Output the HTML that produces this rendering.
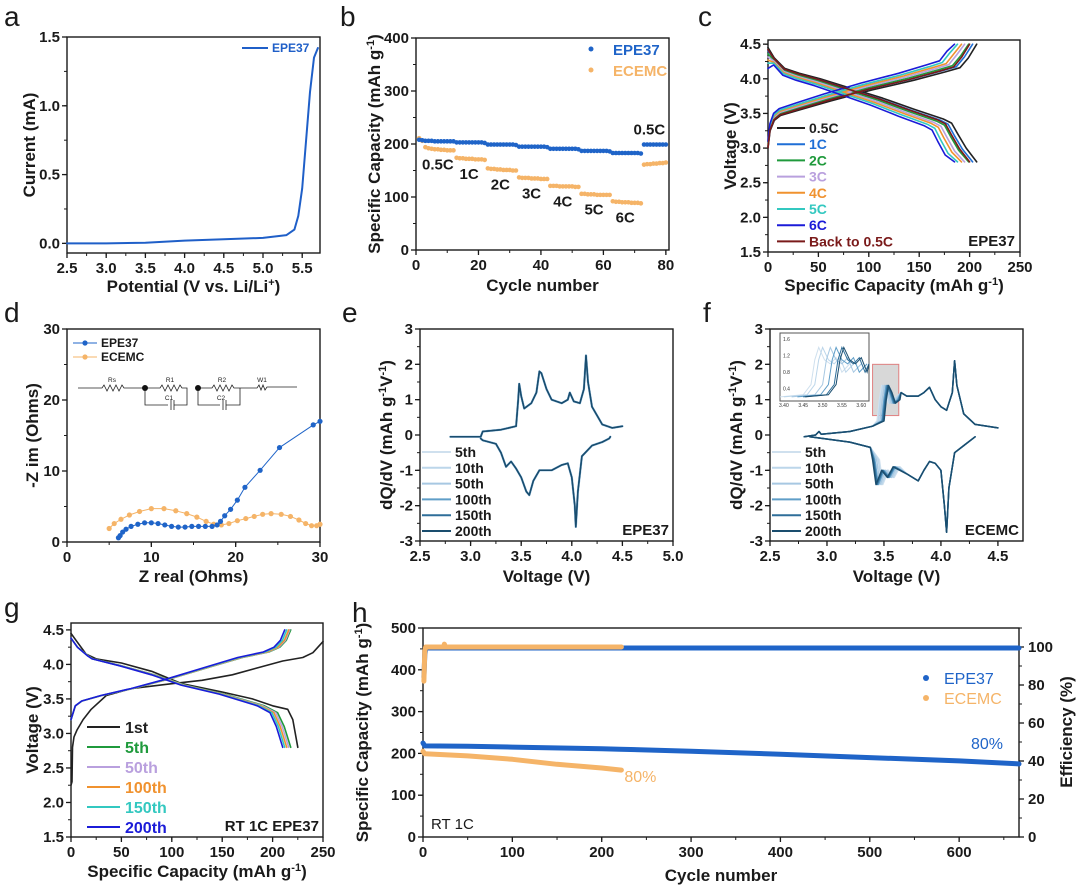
<!DOCTYPE html>
<html><head><meta charset="utf-8"><style>
html,body{margin:0;padding:0;background:#fff;}
svg{display:block;font-family:"Liberation Sans",Arial,sans-serif;}
</style></head><body>
<svg id="fig" width="1080" height="888" viewBox="0 0 1080 888" xmlns="http://www.w3.org/2000/svg"></svg>
<script>
// ---------- data arrays ----------
// panel a (LSV)
const aPotential = [2.5,3.0,3.5,4.0,4.5,5.0,5.3,5.4,5.45,5.5,5.55,5.6,5.65,5.7];
const aCurrent   = [0.0,0.0,0.005,0.02,0.03,0.04,0.06,0.1,0.2,0.4,0.75,1.1,1.35,1.42];
const aXTicks = ['2.5','3.0','3.5','4.0','4.5','5.0','5.5'];
const aYTicks = ['0.0','0.5','1.0','1.5'];
// panel b (rate)
const bCycles = [1,2,3,4,5,6,7,8,9,10,11,12,13,14,15,16,17,18,19,20,21,22,23,24,25,26,27,28,29,30,31,32,33,34,35,36,37,38,39,40,41,42,43,44,45,46,47,48,49,50,51,52,53,54,55,56,57,58,59,60,61,62,63,64,65,66,67,68,69,70,71,72,73,74,75,76,77,78,79,80];
const bEPE = [208,207,206,206,206,205,205,205,205,205,205,205,203,203,203,203,203,203,203,203,203,202,199,199,199,199,199,199,199,199,199,198,195,195,195,195,195,195,195,195,195,194,191,191,191,191,191,191,191,191,191,190,187,187,187,187,187,187,187,187,187,186,183,183,183,183,183,183,183,183,183,182,199,199,199,199,199,199,199,199];
const bECEMC = [211,206,194,192,191,190,190,189,189,188,188,188,174,173,173,172,172,172,171,171,171,170,154,153,153,152,152,151,151,151,150,150,137,136,136,136,135,135,135,134,134,134,121,121,121,120,120,120,120,120,119,119,106,106,105,105,105,104,104,104,104,104,92,91,91,90,90,90,89,89,89,88,161,162,162,163,163,164,164,165];
const bRateLabels = ['0.5C','1C','2C','3C','4C','5C','6C','0.5C'];
const bRateCycle = [7,17,27,37,47,57,67,76];
const bXTicks = ['0','20','40','60','80'];
const bYTicks = ['0','100','200','300','400'];
// panel c (rate voltage profiles)
const cRates = ['0.5C','1C','2C','3C','4C','5C','6C','Back to 0.5C'];
const cCaps  = [207,203,199,195,192,188,185,200];
const cPolar = [0.0,0.015,0.03,0.045,0.06,0.075,0.1,0.01];
const cChargeFrac = [0,0.01,0.03,0.06,0.15,0.3,0.5,0.7,0.85,0.92,0.96,1.0];
const cChargeV    = [3.0,3.25,3.4,3.47,3.55,3.68,3.84,3.98,4.1,4.16,4.3,4.5];
const cDisFrac = [0,0.03,0.08,0.15,0.25,0.4,0.55,0.7,0.84,0.88,0.91,0.95,1.0];
const cDisV    = [4.45,4.3,4.15,4.08,4.0,3.86,3.72,3.56,3.42,3.36,3.2,3.0,2.8];
const cXTicks = ['0','50','100','150','200','250'];
const cYTicks = ['1.5','2.0','2.5','3.0','3.5','4.0','4.5'];
// panel d (EIS)
const dEPEx = [6.1,6.3,6.6,7.0,7.6,8.4,9.2,10.0,10.8,11.6,12.4,13.2,14.0,14.8,15.6,16.4,17.2,17.8,18.2,18.7,19.4,20.2,21.1,22.9,25.2,29.2,30];
const dEPEy = [0.6,0.9,1.4,1.8,2.2,2.5,2.7,2.7,2.6,2.4,2.2,2.1,2.1,2.2,2.2,2.2,2.2,2.4,2.9,3.7,4.6,5.9,7.7,10.1,13.3,16.5,17];
const dECx = [5.0,5.6,6.4,7.4,8.6,10.0,11.5,12.9,14.2,15.4,16.5,17.4,18.3,19.2,20.2,21.2,22.2,23.2,24.2,25.4,26.5,27.5,28.3,29.0,29.6,30];
const dECy = [1.9,2.6,3.2,3.8,4.3,4.7,4.7,4.4,4.0,3.5,2.9,2.5,2.4,2.6,3.0,3.3,3.6,3.9,4.0,3.9,3.6,3.1,2.6,2.3,2.3,2.5];
const dXTicks = ['0','10','20','30'];
const dYTicks = ['0','10','20','30'];
// panel e (dQ/dV EPE37)
const eChgV = [2.8,3.1,3.12,3.3,3.45,3.47,3.48,3.5,3.53,3.6,3.65,3.68,3.7,3.75,3.8,3.9,3.96,3.98,4.02,4.08,4.12,4.14,4.16,4.2,4.3,4.4,4.5];
const eChgQ = [-0.05,-0.05,0.1,0.15,0.25,1.0,1.45,1.1,0.75,0.9,1.2,1.8,1.75,1.3,1.0,0.9,1.0,1.2,0.95,0.9,1.3,2.25,1.5,0.8,0.3,0.2,0.25];
const eDisV = [3.1,3.12,3.25,3.3,3.35,3.4,3.45,3.5,3.55,3.58,3.62,3.68,3.8,3.9,3.96,4.0,4.03,4.04,4.06,4.1,4.2,4.3,4.37,4.38];
const eDisQ = [-0.1,-0.15,-0.25,-0.5,-0.9,-0.75,-0.95,-1.2,-1.6,-1.7,-1.3,-1.0,-1.0,-0.85,-0.8,-1.2,-2.0,-2.6,-1.6,-0.6,-0.3,-0.2,-0.1,-0.05];
const cycLabels = ['5th','10th','50th','100th','150th','200th'];
const eXTicks = ['2.5','3.0','3.5','4.0','4.5','5.0'];
const eYTicks = ['-3','-2','-1','0','1','2','3'];
// panel f (dQ/dV ECEMC)
const fChgV = [2.8,2.9,2.93,2.95,3.2,3.4,3.48,3.5,3.52,3.55,3.58,3.62,3.65,3.7,3.8,3.85,3.9,3.95,4.0,4.05,4.1,4.12,4.14,4.2,4.3,4.5];
const fChgQ = [-0.05,0,0.1,0.02,0.1,0.25,0.4,1.0,1.4,1.2,0.9,1.0,1.2,1.1,1.1,1.2,1.35,1.0,0.8,0.7,1.2,2.1,1.4,0.6,0.3,0.2];
const fDisV = [2.85,3.2,3.38,3.42,3.45,3.5,3.55,3.6,3.7,3.8,3.85,3.9,3.95,4.0,4.03,4.05,4.07,4.12,4.2,4.3];
const fDisQ = [-0.05,-0.2,-0.35,-0.7,-1.4,-1.0,-1.2,-0.9,-1.1,-1.3,-1.0,-0.75,-0.8,-1.0,-2.0,-2.75,-1.5,-0.5,-0.3,-0.05];
const fCycleShift = [-0.04,-0.03,-0.015,0,0.01,0.02];
const fInsetOnset = [3.47,3.48,3.5,3.515,3.53,3.535];
const fInsetDx = [-0.08,-0.02,0,0.01,0.02,0.035,0.05,0.065,0.08,0.1];
const fInsetY  = [0.2,0.25,0.5,1.1,1.4,1.1,1.0,1.15,0.8,1.0];
const fXTicks = ['2.5','3.0','3.5','4.0','4.5'];
const fYTicks = ['-3','-2','-1','0','1','2','3'];
// panel g (cycling profiles)
const gLabels = ['1st','5th','50th','100th','150th','200th'];
const gFirstChgC = [0,1,1.5,3,6,12,20,35,60,100,130,160,190,210,230,240,250];
const gFirstChgV = [2.25,2.3,2.8,2.95,3.05,3.2,3.35,3.55,3.65,3.72,3.77,3.85,3.97,4.05,4.1,4.17,4.33];
const gFirstDisC = [0,5,15,25,50,80,110,150,180,200,215,220,225];
const gFirstDisV = [4.45,4.35,4.15,4.08,4.02,3.9,3.72,3.6,3.5,3.4,3.35,3.2,2.8];
const gChgCaps = [218,217,216,214,212];
const gDisCaps = [218,216,214,212,210];
const gChgFrac = [0,0.02,0.05,0.14,0.28,0.46,0.64,0.78,0.9,0.95,0.98,1.0];
const gChgV    = [3.2,3.4,3.47,3.55,3.65,3.8,3.97,4.1,4.18,4.25,4.35,4.5];
const gDisFrac = [0,0.03,0.08,0.1,0.23,0.38,0.52,0.7,0.88,0.94,0.97,1.0];
const gDisV    = [4.38,4.25,4.12,4.08,3.98,3.85,3.7,3.57,3.4,3.3,3.1,2.8];
const gXTicks = ['0','50','100','150','200','250'];
const gYTicks = ['1.5','2.0','2.5','3.0','3.5','4.0','4.5'];
// panel h (long cycling)
const hEPECyc = [0,2,50,100,200,220,300,400,500,600,667];
const hEPECap = [225,218,217,215,211,210,205,198,190,182,175];
const hECCyc = [0,2,50,100,150,200,222];
const hECCap = [205,199,194,186,174,165,160];
const hEPEEffCyc = [1,2,3,667];
const hEPEEff = [84,96,99.5,99.5];
const hECEffCyc = [1,2,3,23,24,25,222];
const hECEff = [82,98,100,100,101.5,100,100];
const hXTicks = ['0','100','200','300','400','500','600'];
const hYTicks = ['0','100','200','300','400','500'];
const hY2Ticks = ['0','20','40','60','80','100'];

// ---------- helpers ----------
const NS='http://www.w3.org/2000/svg';
const svg=document.getElementById('fig');
function el(tag,attrs,parent){const e=document.createElementNS(NS,tag);for(const k in attrs)e.setAttribute(k,attrs[k]);(parent||svg).appendChild(e);return e;}
function txt(s,attrs,parent){const e=el('text',attrs,parent);e.textContent=s;return e;}
const INK='#1a1a1a';
function axes(p){
  const g=el('g',{});
  
  
  const X=v=>p.L+(v-p.x0)/(p.x1-p.x0)*(p.R-p.L);
  const Y=v=>p.B-(v-p.y0)/(p.y1-p.y0)*(p.B-p.T);
  const fr=el('rect',{x:p.L,y:p.T,width:p.R-p.L,height:p.B-p.T,fill:'none',stroke:INK,'stroke-width':1.4},g);
  
  
  p.xt.forEach(s=>{const v=parseFloat(s);const x=X(v);
    el('line',{x1:x,x2:x,y1:p.B,y2:p.B+5,stroke:INK,'stroke-width':1.3},g);
    const t=txt(s,{x:x,y:p.B+20,'text-anchor':'middle','font-size':15,'font-weight':'bold',fill:INK},g);
    
    
  });
  for(let v=p.x0Minor;v<=p.x1+1e-9;v+=p.xm){const x=X(v);if(x<p.L-0.5||x>p.R+0.5)continue;el('line',{x1:x,x2:x,y1:p.B,y2:p.B+3,stroke:INK,'stroke-width':1},g);}
  p.yt.forEach(s=>{const v=parseFloat(s);const y=Y(v);
    el('line',{x1:p.L-5,x2:p.L,y1:y,y2:y,stroke:INK,'stroke-width':1.3},g);
    const t=txt(s,{x:p.L-7,y:y+5,'text-anchor':'end','font-size':15,'font-weight':'bold',fill:INK},g);
    
    
  });
  for(let v=p.y0Minor;v<=p.y1+1e-9;v+=p.ym){const y=Y(v);if(y<p.T-0.5||y>p.B+0.5)continue;el('line',{x1:p.L-3,x2:p.L,y1:y,y2:y,stroke:INK,'stroke-width':1},g);}
  const xt=el('text',{x:(p.L+p.R)/2,y:p.xty,'text-anchor':'middle','font-size':17,'font-weight':'bold',fill:INK},g);
  xt.innerHTML=p.xtitle;
  
  
  const yt=el('text',{x:0,y:0,transform:`translate(${p.ytx},${(p.T+p.B)/2}) rotate(-90)`,'text-anchor':'middle','font-size':17,'font-weight':'bold',fill:INK},g);
  yt.innerHTML=p.ytitle;
  
  
  const lt=txt(p.letter,{x:p.lx,y:p.ly,'font-size':28,fill:INK},g);
  
  
  return {X,Y,g};
}
function poly(ax,xs,ys,attrs){return el('polyline',Object.assign({points:xs.map((v,i)=>ax.X(v).toFixed(1)+','+ax.Y(ys[i]).toFixed(1)).join(' '),fill:'none','stroke-linejoin':'round','stroke-linecap':'round'},attrs),ax.g);}
const SUP='<tspan baseline-shift="super" font-size="11">';

// ---------- panel a ----------
(function(){
 const ax=axes({name:'panel-a-lsv',letter:'a',lx:4,ly:26,L:67,R:320,T:37,B:253,x0:2.5,x1:5.727,y0:-0.07,y1:1.5,x0Minor:2.5,xm:0.25,y0Minor:0,ym:0.25,xt:aXTicks,yt:aYTicks,xty:292,ytx:35,
  xtitle:'Potential (V vs. Li/Li'+SUP+'+</tspan>)',ytitle:'Current (mA)'});
 const l=poly(ax,aPotential,aCurrent,{stroke:'#1f5fc8','stroke-width':2});
 
 
 el('line',{x1:242,x2:268,y1:48,y2:48,stroke:'#1f5fc8','stroke-width':2},ax.g);
 const t=txt('EPE37',{x:272,y:52,'font-size':12,'font-weight':'bold',fill:'#1f5fc8'},ax.g);
 
 
})();

// ---------- panel b ----------
(function(){
 const ax=axes({name:'panel-b-rate',letter:'b',lx:340,ly:26,L:416,R:669,T:38,B:250,x0:0,x1:81,y0:0,y1:400,x0Minor:0,xm:10,y0Minor:0,ym:50,xt:bXTicks,yt:bYTicks,xty:291,ytx:380,
  xtitle:'Cycle number',ytitle:'Specific Capacity (mAh g'+SUP+'-1</tspan>)'});
 bCycles.forEach((c,i)=>{
  const d=el('circle',{cx:ax.X(c),cy:ax.Y(bECEMC[i]),r:2.3,fill:'#f5b468'},ax.g);
  
  
 });
 bCycles.forEach((c,i)=>{
  const d=el('circle',{cx:ax.X(c),cy:ax.Y(bEPE[i]),r:2.3,fill:'#1f64c8'},ax.g);
  
  
 });
 bRateLabels.forEach((s,i)=>{
  const c=bRateCycle[i];const last=i===bRateLabels.length-1;
  const idx=bCycles.indexOf(c);
  const y=last?ax.Y(bEPE[idx])-10:ax.Y(bECEMC[idx])+20;
  const t=txt(s,{x:ax.X(c)+(last?-4:0),y:y,'text-anchor':'middle','font-size':15,'font-weight':'bold',fill:INK},ax.g);
  
  
 });
 el('circle',{cx:591,cy:49,r:2.5,fill:'#1f64c8'},ax.g);
 const t1=txt('EPE37',{x:613,y:55,'font-size':15,'font-weight':'bold',fill:'#1f64c8'},ax.g);
 
 
 el('circle',{cx:591,cy:70,r:2.5,fill:'#f5b468'},ax.g);
 const t2=txt('ECEMC',{x:613,y:76,'font-size':15,'font-weight':'bold',fill:'#f5b468'},ax.g);
 
 
})();

// ---------- panel c ----------
const cColors=['#222222','#1f6fd6','#1f9a3c','#b9a0de','#f0922f','#33c8c0','#1b1bd8','#7a1a1a'];
(function(){
 const ax=axes({name:'panel-c-rate-profiles',letter:'c',lx:698,ly:26,L:768,R:1020,T:40,B:252,x0:0,x1:250,y0:1.5,y1:4.56,x0Minor:0,xm:25,y0Minor:1.5,ym:0.25,xt:cXTicks,yt:cYTicks,xty:291,ytx:736,
  xtitle:'Specific Capacity (mAh g'+SUP+'-1</tspan>)',ytitle:'Voltage (V)'});
 cRates.forEach((r,i)=>{
  const cap=cCaps[i],dp=cPolar[i];
  const c1=poly(ax,cChargeFrac.map(f=>f*cap),cChargeV.map((v,k)=>k===cChargeV.length-1?v:v+dp),{stroke:cColors[i],'stroke-width':1.6});
  
  
  const c2=poly(ax,cDisFrac.map(f=>f*cap),cDisV.map((v,k)=>k===cDisV.length-1?v:v-dp*(k===0?3:1)),{stroke:cColors[i],'stroke-width':1.6});
  
  
 });
 cRates.forEach((r,i)=>{
  const y=128+16.2*i;
  el('line',{x1:777,x2:805,y1:y,y2:y,stroke:cColors[i],'stroke-width':2},ax.g);
  const t=txt(r,{x:809,y:y+5,'font-size':14,'font-weight':'bold',fill:cColors[i]},ax.g);
  
  
 });
 const t=txt('EPE37',{x:1015,y:246,'text-anchor':'end','font-size':15,'font-weight':'bold',fill:INK},ax.g);
 
 
})();

// ---------- panel d ----------
(function(){
 const ax=axes({name:'panel-d-eis',letter:'d',lx:4,ly:322,L:67,R:320,T:329,B:542,x0:0,x1:30,y0:0,y1:30,x0Minor:0,xm:5,y0Minor:0,ym:5,xt:dXTicks,yt:dYTicks,xty:582,ytx:38,
  xtitle:'Z real (Ohms)',ytitle:'-Z im (Ohms)'});
 const o=poly(ax,dECx,dECy,{stroke:'#f5b468','stroke-width':1});
 
 
 dECx.forEach((v,i)=>{const d=el('circle',{cx:ax.X(v),cy:ax.Y(dECy[i]),r:2.6,fill:'#f5b468'},ax.g);
  
  });
 const b=poly(ax,dEPEx,dEPEy,{stroke:'#1f64c8','stroke-width':1});
 
 
 dEPEx.forEach((v,i)=>{const d=el('circle',{cx:ax.X(v),cy:ax.Y(dEPEy[i]),r:2.6,fill:'#1f64c8'},ax.g);
  
  });
 el('line',{x1:73,x2:97,y1:343,y2:343,stroke:'#1f64c8','stroke-width':1},ax.g);
 el('circle',{cx:85,cy:343,r:2.6,fill:'#1f64c8'},ax.g);
 const t1=txt('EPE37',{x:101,y:347,'font-size':12,'font-weight':'bold',fill:INK},ax.g);
 
 
 el('line',{x1:73,x2:97,y1:357,y2:357,stroke:'#f5b468','stroke-width':1},ax.g);
 el('circle',{cx:85,cy:357,r:2.6,fill:'#f5b468'},ax.g);
 const t2=txt('ECEMC',{x:101,y:361,'font-size':12,'font-weight':'bold',fill:INK},ax.g);
 
 
 const cg=el('g',{stroke:'#222','stroke-width':0.8,fill:'none'},ax.g);
 
 
 const y=388;
 el('path',{d:`M78 ${y} H102 l2 -3 l3 6 l3 -6 l3 6 l3 -6 l3 6 l3 -6 l2 3 H145 M145 ${y} H160 l2 -3 l3 6 l3 -6 l3 6 l3 -6 l3 6 l3 -6 l2 3 H187 V405 H174 M168 405 H145 V${y} M171 400 V410 M174 400 V410 M198 ${y} H212 l2 -3 l3 6 l3 -6 l3 6 l3 -6 l3 6 l3 -6 l2 3 H240 V405 H226 M220 405 H198 V${y} M223 400 V410 M226 400 V410 M240 ${y} H257 l2 -3 l2 5 l2 -5 l2 5 l2 -3 H297`},cg);
 el('circle',{cx:145,cy:y,r:3,fill:'#111',stroke:'none'},cg);
 el('circle',{cx:198,cy:y,r:3,fill:'#111',stroke:'none'},cg);
 [['Rs',112,382],['R1',170,382],['R2',222,382],['C1',169,400],['C2',221,400],['W1',262,382]].forEach(a=>{
  const t=txt(a[0],{x:a[1],y:a[2],'font-size':6.5,fill:'#222',stroke:'none','text-anchor':'middle'},cg);
  
  
 });
})();

// ---------- panel e ----------
const cycColors=['#cfe0ee','#bcd6ea','#a7c8e2','#5f9ec8','#2f6e99','#1a4d6e'];
(function(){
 const ax=axes({name:'panel-e-dqdv-epe37',letter:'e',lx:342,ly:322,L:420,R:673,T:329,B:541,x0:2.5,x1:5.0,y0:-3,y1:3,x0Minor:2.5,xm:0.25,y0Minor:-3,ym:0.5,xt:eXTicks,yt:eYTicks,xty:582,ytx:392,
  xtitle:'Voltage (V)',ytitle:'dQ/dV (mAh g'+SUP+'-1</tspan>V'+SUP+'-1</tspan>)'});
 cycLabels.forEach((c,i)=>{
  const w=i<3?2.2:1.5;
  const p1=poly(ax,eChgV,eChgQ,{stroke:cycColors[i],'stroke-width':w});
  
  
  const p2=poly(ax,eDisV,eDisQ,{stroke:cycColors[i],'stroke-width':w});
  
  
 });
 cycLabels.forEach((c,i)=>{
  const y=452+15.8*i;
  el('line',{x1:422,x2:451,y1:y,y2:y,stroke:cycColors[i],'stroke-width':2},ax.g);
  const t=txt(c,{x:455,y:y+5,'font-size':14,'font-weight':'bold',fill:INK},ax.g);
  
  
 });
 const t=txt('EPE37',{x:669,y:535,'text-anchor':'end','font-size':15,'font-weight':'bold',fill:INK},ax.g);
 
 
})();

// ---------- panel f ----------
(function(){
 const ax=axes({name:'panel-f-dqdv-ecemc',letter:'f',lx:703,ly:322,L:770,R:1023,T:329,B:541,x0:2.5,x1:4.72,y0:-3,y1:3,x0Minor:2.5,xm:0.25,y0Minor:-3,ym:0.5,xt:fXTicks,yt:fYTicks,xty:582,ytx:742,
  xtitle:'Voltage (V)',ytitle:'dQ/dV (mAh g'+SUP+'-1</tspan>V'+SUP+'-1</tspan>)'});
 const hl=el('rect',{x:ax.X(3.4),y:ax.Y(2.0),width:ax.X(3.63)-ax.X(3.4),height:ax.Y(0.55)-ax.Y(2.0),fill:'#d8d8d8',stroke:'#e08080','stroke-width':1},ax.g);
 
 
 cycLabels.forEach((c,i)=>{
  const s=fCycleShift[i];
  const p1=poly(ax,fChgV.map((v,k)=>(k>=6&&k<=11)?v+s:v),fChgQ,{stroke:cycColors[i],'stroke-width':1.5});
  
  
  const p2=poly(ax,fDisV.map((v,k)=>(k>=3&&k<=7)?v-s:v),fDisQ,{stroke:cycColors[i],'stroke-width':1.5});
  
  
 });
 const ig=el('g',{},ax.g);
 
 
 el('rect',{x:780,y:333,width:89,height:68,fill:'#fff',stroke:'#555','stroke-width':1},ig);
 const IX=v=>780+(v-3.39)/(3.62-3.39)*89, IY=v=>401-(v-0.1)/(1.75-0.1)*68;
 fInsetOnset.forEach((o,i)=>{
  const pts=fInsetDx.map((d,k)=>IX(Math.min(3.62,Math.max(3.39,o+d))).toFixed(1)+','+IY(fInsetY[k]).toFixed(1)).join(' ');
  const p=el('polyline',{points:pts,fill:'none',stroke:cycColors[i],'stroke-width':1},ig);
  
  
 });
 ['3.40','3.45','3.50','3.55','3.60'].forEach(s=>{const t=txt(s,{x:IX(parseFloat(s)),y:407,'font-size':5,'text-anchor':'middle',fill:'#333'},ig);
  
  });
 ['0.4','0.8','1.2','1.6'].forEach(s=>{const t=txt(s,{x:783,y:IY(parseFloat(s))+2,'font-size':5,fill:'#333'},ig);
  
  });
 cycLabels.forEach((c,i)=>{
  const y=452+15.8*i;
  el('line',{x1:772,x2:801,y1:y,y2:y,stroke:cycColors[i],'stroke-width':2},ax.g);
  const t=txt(c,{x:805,y:y+5,'font-size':14,'font-weight':'bold',fill:INK},ax.g);
  
  
 });
 const t=txt('ECEMC',{x:1019,y:535,'text-anchor':'end','font-size':15,'font-weight':'bold',fill:INK},ax.g);
 
 
})();

// ---------- panel g ----------
const gColors=['#222222','#1f9a3c','#b9a0de','#f0922f','#33c8c0','#1b1bd8'];
(function(){
 const ax=axes({name:'panel-g-cycling-profiles',letter:'g',lx:4,ly:617,L:71,R:323,T:623,B:837,x0:0,x1:250,y0:1.5,y1:4.6,x0Minor:0,xm:25,y0Minor:1.5,ym:0.25,xt:gXTicks,yt:gYTicks,xty:877,ytx:38,
  xtitle:'Specific Capacity (mAh g'+SUP+'-1</tspan>)',ytitle:'Voltage (V)'});
 const f1=poly(ax,gFirstChgC,gFirstChgV,{stroke:gColors[0],'stroke-width':1.6});
 
 
 const f2=poly(ax,gFirstDisC,gFirstDisV,{stroke:gColors[0],'stroke-width':1.6});
 
 
 gChgCaps.forEach((cap,i)=>{
  const p1=poly(ax,gChgFrac.map(f=>f*cap),gChgV,{stroke:gColors[i+1],'stroke-width':1.6});
  
  
  const p2=poly(ax,gDisFrac.map(f=>f*gDisCaps[i]),gDisV,{stroke:gColors[i+1],'stroke-width':1.6});
  
  
 });
 gLabels.forEach((s,i)=>{
  const y=727+20*i;
  el('line',{x1:87,x2:120,y1:y,y2:y,stroke:gColors[i],'stroke-width':2},ax.g);
  const t=txt(s,{x:125,y:y+6,'font-size':16,'font-weight':'bold',fill:gColors[i]},ax.g);
  
  
 });
 const t=txt('RT 1C EPE37',{x:319,y:831,'text-anchor':'end','font-size':15,'font-weight':'bold',fill:INK},ax.g);
 
 
})();

// ---------- panel h ----------
(function(){
 const ax=axes({name:'panel-h-long-cycling',letter:'h',lx:352,ly:622,L:423,R:1019,T:628,B:837,x0:0,x1:667,y0:0,y1:500,x0Minor:0,xm:50,y0Minor:0,ym:50,xt:hXTicks,yt:hYTicks,xty:881,ytx:368,
  xtitle:'Cycle number',ytitle:'Specific Capacity (mAh g'+SUP+'-1</tspan>)'});
 const Y2=v=>837-v/110*209;
 hY2Ticks.forEach(s=>{const y=Y2(parseFloat(s));
  el('line',{x1:1019,x2:1024,y1:y,y2:y,stroke:INK,'stroke-width':1.3},ax.g);
  const t=txt(s,{x:1028,y:y+5,'font-size':15,'font-weight':'bold',fill:INK},ax.g);
  
  });
 for(let v=10;v<=110;v+=20){const y=Y2(v);el('line',{x1:1019,x2:1022,y1:y,y2:y,stroke:INK,'stroke-width':1},ax.g);}
 const y2t=el('text',{x:0,y:0,transform:'translate(1072,732) rotate(-90)','text-anchor':'middle','font-size':17,'font-weight':'bold',fill:INK},ax.g);
 y2t.textContent='Efficiency (%)';
 
 
 const pts2=(xs,ys)=>xs.map((v,i)=>ax.X(v).toFixed(1)+','+Y2(ys[i]).toFixed(1)).join(' ');
 const e1=el('polyline',{points:pts2(hEPEEffCyc,hEPEEff),fill:'none',stroke:'#1f64c8','stroke-width':5,'stroke-linecap':'round','stroke-linejoin':'round'},ax.g);
 
 
 const e2=el('polyline',{points:pts2(hECEffCyc,hECEff),fill:'none',stroke:'#f5b468','stroke-width':5,'stroke-linecap':'round','stroke-linejoin':'round'},ax.g);
 
 
 const c1=poly(ax,hEPECyc,hEPECap,{stroke:'#1f64c8','stroke-width':5});
 
 
 const c2=poly(ax,hECCyc,hECCap,{stroke:'#f5b468','stroke-width':5});
 
 
 const l1=txt('80%',{x:ax.X(hECCyc[hECCyc.length-1])+3,y:ax.Y(hECCap[hECCap.length-1])+12,'font-size':16,fill:'#f5b468'},ax.g);
 
 
 const l2=txt('80%',{x:1003,y:ax.Y(hEPECap[hEPECap.length-1])-15,'text-anchor':'end','font-size':16,fill:'#1f64c8'},ax.g);
 
 
 el('circle',{cx:926,cy:678,r:3,fill:'#1f64c8'},ax.g);
 const t1=txt('EPE37',{x:944,y:684,'font-size':16,fill:'#1f64c8'},ax.g);
 
 
 el('circle',{cx:926,cy:698,r:3,fill:'#f5b468'},ax.g);
 const t2=txt('ECEMC',{x:944,y:704,'font-size':16,fill:'#f5b468'},ax.g);
 
 
 const rt=txt('RT 1C',{x:431,y:829,'font-size':15,fill:INK},ax.g);
 
 
})();
</script>
</body></html>
